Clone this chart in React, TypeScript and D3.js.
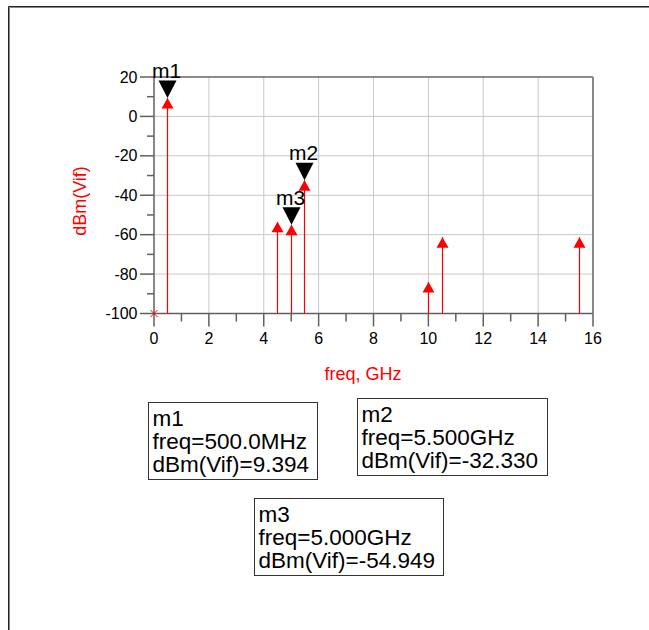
import React from "react";
import * as d3 from "d3";

const freqs = [0.5, 4.5, 5.0, 5.5, 10, 10.5, 15.5];
const dbmValues = [9.394, -53.5, -54.949, -32.33, -84, -61.3, -61.3];
const dcFreq = 0;
const dcValue = -100;
const markerNames = ["m1", "m2", "m3"];
const markerFreqs = [0.5, 5.5, 5.0];
const markerValues = [9.394, -32.33, -54.949];
const markerFreqText = ["500.0MHz", "5.500GHz", "5.000GHz"];
const markerValText = ["9.394", "-32.330", "-54.949"];
const xTicks = [0, 2, 4, 6, 8, 10, 12, 14, 16];
const xMinor = [1, 3, 5, 7, 9, 11, 13, 15];
const yTicks = [20, 0, -20, -40, -60, -80, -100];
const yMinor = [10, -10, -30, -50, -70, -90];

const FONT = "'Liberation Sans', Arial, Helvetica, sans-serif";

export default function App() {
  const W = 649, H = 630;
  const left = 154, right = 593, top = 77, bottom = 313.5;
  const x = d3.scaleLinear().domain([0, 16]).range([left, right]);
  const y = d3.scaleLinear().domain([-100, 20]).range([bottom, top]);
  const grid = "#c8c8c8";
  const axisC = "#606060";
  const sx = (f: number) => Math.floor(x(f)) + 0.5;

  const boxes = [
    { x: 148.5, y: 402.5, w: 169, h: 77 },
    { x: 357.5, y: 398.5, w: 190, h: 77 },
    { x: 254.5, y: 498.5, w: 189, h: 77 },
  ];

  return (
    <svg width={W} height={H} style={{ position: "absolute", left: 0, top: 0, background: "#fff" }} fontFamily={FONT}>
      <rect x={0} y={0} width={W} height={H} fill="#fff" />
      {/* outer frame */}
      <line x1={8.5} y1={6.5} x2={W} y2={6.5} stroke="#222" strokeWidth={1} />
      <line x1={9.5} y1={7.5} x2={W} y2={7.5} stroke="#888" strokeWidth={1} />
      <line x1={8.5} y1={6.5} x2={8.5} y2={H} stroke="#222" strokeWidth={1} />
      <line x1={9.5} y1={7.5} x2={9.5} y2={H} stroke="#888" strokeWidth={1} />

      {/* grid */}
      {xTicks.slice(1, -1).map((t) => (
        <line key={"gx" + t} x1={x(t)} x2={x(t)} y1={top} y2={bottom} stroke={grid} strokeWidth={1} />
      ))}
      {yTicks.slice(1, -1).map((t) => (
        <line key={"gy" + t} x1={left} x2={right} y1={y(t)} y2={y(t)} stroke={grid} strokeWidth={1} />
      ))}
      {/* borders */}
      <line x1={left} x2={right} y1={top} y2={top} stroke="#666" strokeWidth={1.5} />
      <line x1={right} x2={right} y1={top} y2={bottom} stroke="#888" strokeWidth={2} />
      {/* x ticks */}
      {xTicks.map((t) => (
        <line key={"xt" + t} x1={x(t)} x2={x(t)} y1={bottom} y2={bottom + 13} stroke={axisC} strokeWidth={1.5} />
      ))}
      {xMinor.map((t) => (
        <line key={"xm" + t} x1={x(t)} x2={x(t)} y1={bottom} y2={bottom + 8} stroke={axisC} strokeWidth={1.5} />
      ))}
      {yTicks.map((t) => (
        <line key={"yt" + t} x1={left - 14} x2={left} y1={y(t)} y2={y(t)} stroke={axisC} strokeWidth={1.5} />
      ))}
      {yMinor.map((t) => (
        <line key={"ym" + t} x1={left - 7} x2={left} y1={y(t)} y2={y(t)} stroke={axisC} strokeWidth={1.5} />
      ))}
      <line x1={left} x2={left} y1={top} y2={bottom} stroke={axisC} strokeWidth={1.5} />
      <line x1={left} x2={right} y1={bottom} y2={bottom} stroke={axisC} strokeWidth={1.5} />

      {/* tick labels */}
      {xTicks.map((t) => (
        <text key={"xl" + t} x={x(t)} y={343.5} textAnchor="middle" fontSize={16} fill="#000">{t}</text>
      ))}
      {yTicks.map((t) => (
        <text key={"yl" + t} x={137.5} y={y(t) + 5.5} textAnchor="end" fontSize={16} fill="#000">{t}</text>
      ))}

      {/* axis labels */}
      <text x={363} y={379.5} textAnchor="middle" fontSize={18} fill="#ff0000">freq, GHz</text>
      <text transform={`translate(85.5,201) rotate(-90)`} textAnchor="middle" fontSize={18} fill="#ff0000">dBm(Vif)</text>

      {/* stems */}
      {freqs.map((f, i) => (
        <g key={"s" + i}>
          <line x1={sx(f)} x2={sx(f)} y1={y(dbmValues[i])} y2={bottom} stroke="#ff0000" strokeWidth={1.2} />
          <path
            d={`M${sx(f)},${y(dbmValues[i])} L${sx(f) + 6},${y(dbmValues[i]) + 10.5} L${sx(f) - 6},${y(dbmValues[i]) + 10.5} Z`}
            fill="#ff0000"
          />
        </g>
      ))}
      {/* DC cross */}
      <path
        d={`M${x(dcFreq) - 3.5},${y(dcValue) - 3.5} L${x(dcFreq) + 3.5},${y(dcValue) + 3.5} M${x(dcFreq) - 3.5},${y(dcValue) + 3.5} L${x(dcFreq) + 3.5},${y(dcValue) - 3.5}`}
        stroke="#ff0000"
        strokeWidth={1}
        fill="none"
      />

      {/* markers */}
      {markerNames.map((m, i) => {
        const mx = sx(markerFreqs[i]);
        const my = y(markerValues[i]);
        return (
          <g key={"mk" + m}>
            <path d={`M${mx},${my} L${mx + 9},${my - 17.5} L${mx - 9},${my - 17.5} Z`} fill="#000" />
            <text x={mx - 1} y={my - 20} textAnchor="middle" fontSize={21} fill="#000">{m}</text>
          </g>
        );
      })}

      {/* marker readout boxes */}
      {markerNames.map((m, i) => {
        const b = boxes[i];
        return (
          <g key={"bx" + m}>
            <rect x={b.x} y={b.y} width={b.w} height={b.h} fill="#fff" stroke="#333" strokeWidth={1} />
            <text x={b.x + 4} y={b.y + 23} fontSize={22.5} fill="#000">{m}</text>
            <text x={b.x + 4} y={b.y + 46} fontSize={22.5} fill="#000">{"freq=" + markerFreqText[i]}</text>
            <text x={b.x + 4} y={b.y + 69} fontSize={22.5} fill="#000">{"dBm(Vif)=" + markerValText[i]}</text>
          </g>
        );
      })}
    </svg>
  );
}
